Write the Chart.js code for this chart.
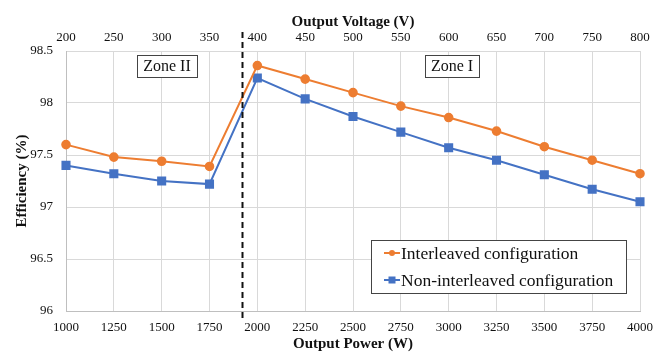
<!DOCTYPE html>
<html>
<head>
<meta charset="utf-8">
<script src="https://cdn.jsdelivr.net/npm/chart.js@4/dist/chart.umd.min.js"></script>
<style>
  html, body { margin: 0; padding: 0; background: #fff; }
  #wrap { width: 668px; height: 353px; }
</style>
</head>
<body>
<div id="wrap"><canvas id="c" width="668" height="353"></canvas></div>
<script>
// Output power (W) and the matching output voltage (V)
const powerW = [1000, 1250, 1500, 1750, 2000, 2250, 2500, 2750, 3000, 3250, 3500, 3750, 4000];
const voltageTicks = [200, 250, 300, 350, 400, 450, 500, 550, 600, 650, 700, 750, 800];
const efficiencyTicks = [96, 96.5, 97, 97.5, 98, 98.5];

// Efficiency (%)
const interleaved    = [97.60, 97.48, 97.44, 97.39, 98.36, 98.23, 98.10, 97.97, 97.86, 97.73, 97.58, 97.45, 97.32];
const nonInterleaved = [97.40, 97.32, 97.25, 97.22, 98.24, 98.04, 97.87, 97.72, 97.57, 97.45, 97.31, 97.17, 97.05];

// Zone boundary (output power, W)
const zoneBoundary = 1922;

const ORANGE = '#ED7D31';
const BLUE = '#4472C4';
const SERIF = '"Liberation Serif", "Times New Roman", serif';

const toPoints = vals => vals.map((v, i) => ({ x: powerW[i], y: v }));
const plain = v => String(v);

const overlay = {
  id: 'overlay',
  afterDraw(chart) {
    const { ctx, chartArea: a, scales } = chart;
    const x = scales.x;
    ctx.save();

    // dashed zone boundary
    const bx = Math.round(x.getPixelForValue(zoneBoundary)) + 0.5;
    ctx.strokeStyle = '#111';
    ctx.lineWidth = 2;
    ctx.setLineDash([6, 4]);
    ctx.beginPath();
    ctx.moveTo(bx, a.top - 19);
    ctx.lineTo(bx, a.bottom + 7);
    ctx.stroke();
    ctx.setLineDash([]);

    // zone labels
    const box = (cx, text) => {
      ctx.font = '16px ' + SERIF;
      const w = Math.round(ctx.measureText(text).width + 12);
      const h = 22;
      const top = a.top + 4;
      const left = Math.round(cx - w / 2);
      ctx.fillStyle = '#fff';
      ctx.fillRect(left, top, w, h);
      ctx.strokeStyle = '#444';
      ctx.lineWidth = 1;
      ctx.strokeRect(left + 0.5, top + 0.5, w, h);
      ctx.fillStyle = '#111';
      ctx.textAlign = 'center';
      ctx.textBaseline = 'middle';
      ctx.fillText(text, left + w / 2, top + h / 2 + 1);
    };
    box(x.getPixelForValue(1530), 'Zone II');
    box(x.getPixelForValue(3015), 'Zone I');

    // legend
    const lx = 371.5, ly = 240.5, lw = 255, lh = 53;
    ctx.fillStyle = '#fff';
    ctx.fillRect(lx, ly, lw, lh);
    ctx.strokeStyle = '#444';
    ctx.lineWidth = 1;
    ctx.strokeRect(lx, ly, lw, lh);
    const items = [
      { label: 'Interleaved configuration', color: ORANGE, shape: 'circle', yy: 253 },
      { label: 'Non-interleaved configuration', color: BLUE, shape: 'rect', yy: 280 }
    ];
    items.forEach(it => {
      ctx.strokeStyle = it.color;
      ctx.lineWidth = 2;
      ctx.beginPath();
      ctx.moveTo(384, it.yy);
      ctx.lineTo(400, it.yy);
      ctx.stroke();
      ctx.fillStyle = it.color;
      if (it.shape === 'circle') {
        ctx.beginPath();
        ctx.arc(392, it.yy, 3, 0, Math.PI * 2);
        ctx.fill();
      } else {
        ctx.fillRect(388.5, it.yy - 3.5, 7, 7);
      }
      ctx.fillStyle = '#111';
      ctx.font = '17.5px ' + SERIF;
      ctx.textAlign = 'left';
      ctx.textBaseline = 'middle';
      ctx.fillText(it.label, 401, it.yy + 1);
    });

    ctx.restore();
  }
};

const tickFont = { family: SERIF, size: 13 };
const titleFont = { family: SERIF, size: 15, weight: 'bold' };

new Chart(document.getElementById('c'), {
  type: 'line',
  data: {
    datasets: [
      {
        label: 'Interleaved configuration',
        data: toPoints(interleaved),
        borderColor: ORANGE,
        backgroundColor: ORANGE,
        borderWidth: 2,
        pointStyle: 'circle',
        pointRadius: 3.8,
        pointHoverRadius: 3.8,
        clip: false,
        tension: 0
      },
      {
        label: 'Non-interleaved configuration',
        data: toPoints(nonInterleaved),
        borderColor: BLUE,
        backgroundColor: BLUE,
        borderWidth: 2,
        pointStyle: 'rect',
        pointRadius: 5,
        pointHoverRadius: 5,
        clip: false,
        tension: 0
      }
    ]
  },
  options: {
    responsive: false,
    animation: false,
    events: [],
    layout: { padding: { left: 0, right: 28, top: 0, bottom: 0 } },
    plugins: { legend: { display: false }, tooltip: { enabled: false } },
    scales: {
      x: {
        type: 'linear',
        position: 'bottom',
        min: 1000, max: 4000,
        afterBuildTicks: s => { s.ticks = powerW.map(v => ({ value: v })); },
        afterFit: s => { s.height = 42; },
        grid: { color: '#d9d9d9', drawTicks: false },
        border: { color: '#bfbfbf' },
        ticks: { font: tickFont, color: '#111', padding: 9, maxRotation: 0, autoSkip: false, callback: plain },
        title: { display: true, text: 'Output Power (W)', font: titleFont, color: '#111', padding: { top: 1, bottom: 0 } }
      },
      x2: {
        type: 'linear',
        position: 'top',
        min: 200, max: 800,
        afterBuildTicks: s => { s.ticks = voltageTicks.map(v => ({ value: v })); },
        afterFit: s => { s.height = 51; },
        grid: { display: false, drawTicks: false },
        border: { display: false },
        ticks: { font: tickFont, color: '#111', padding: 6, maxRotation: 0, autoSkip: false, callback: plain },
        title: { display: true, text: 'Output Voltage (V)', font: titleFont, color: '#111', padding: { top: 13, bottom: 0 } }
      },
      y: {
        min: 96, max: 98.5,
        afterBuildTicks: s => { s.ticks = efficiencyTicks.map(v => ({ value: v })); },
        afterFit: s => { s.width = 66; },
        grid: { color: '#d9d9d9', drawTicks: false },
        border: { color: '#bfbfbf' },
        ticks: { font: tickFont, color: '#111', padding: 13, callback: plain },
        title: { display: true, text: 'Efficiency (%)', font: titleFont, color: '#111', padding: { top: 13, bottom: 0 } }
      }
    }
  },
  plugins: [overlay]
});
</script>
</body>
</html>
